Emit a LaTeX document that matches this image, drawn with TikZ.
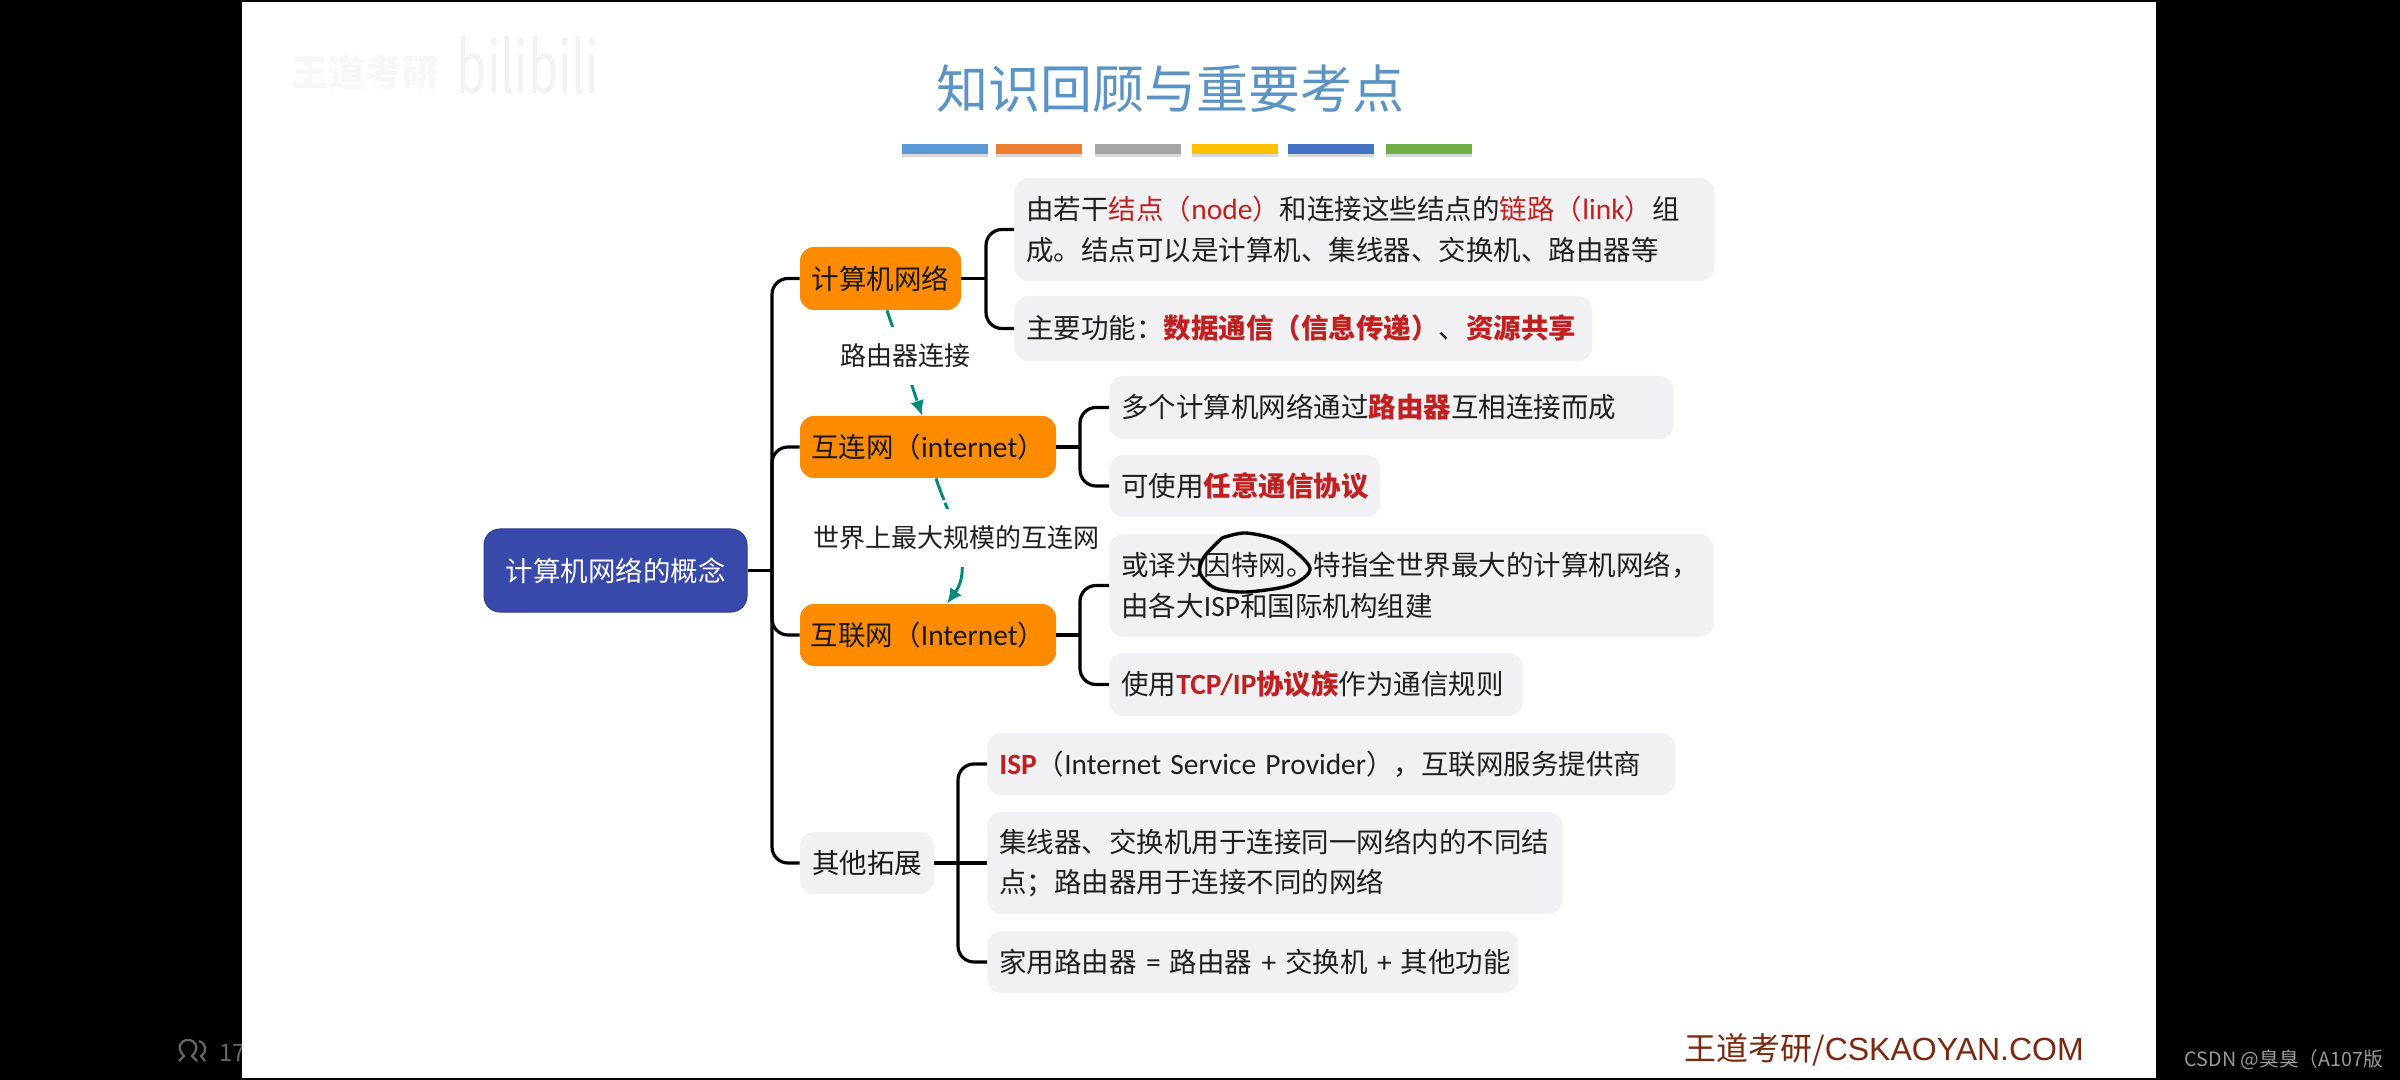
\documentclass[tikz,border=0pt]{standalone}
\usepackage{fontspec}
\setmainfont{Noto Sans CJK SC}
\newfontfamily\latinfont{Liberation Sans}
\newfontfamily\narrowfont[Scale=1.07]{Carlito}
\usetikzlibrary{arrows.meta,shadows}
\definecolor{keyred}{HTML}{C02020}
\definecolor{rootblue}{HTML}{3949AB}
\definecolor{netorange}{HTML}{FF8C00}
\definecolor{leafgray}{HTML}{F1F1F3}
\definecolor{linkteal}{HTML}{00897B}
\definecolor{titleblue}{HTML}{5B94C4}
\definecolor{footred}{HTML}{7B2A10}
\newcommand{\redtxt}[1]{\textcolor{keyred}{#1}}
\newcommand{\redbold}[1]{\textcolor{keyred}{\textbf{#1}}}
\newcommand{\lat}[1]{{\narrowfont #1}}
\begin{document}
\begin{tikzpicture}[
  x=0.5pt,y=-0.5pt,
  bodyfont/.style={font=\fontsize{13.75}{20.4}\selectfont},
  rootbox/.style={draw=rootblue!80!black,line width=0.5pt,fill=rootblue,rounded corners=8pt,text=white,bodyfont,inner sep=0pt},
  netbox/.style={fill=netorange,rounded corners=7pt,text=black!90,bodyfont,inner sep=0pt},
  leafbox/.style={fill=leafgray,rounded corners=7pt,text=black!88,bodyfont,anchor=west,align=left,inner xsep=6pt,inner ysep=0pt},
  barbox/.style={anchor=north west,minimum width=43pt,minimum height=5pt,inner sep=0pt,drop shadow={shadow xshift=0pt,shadow yshift=-1.5pt,opacity=0.3}},
  branch/.style={draw=black,line width=1.6pt,rounded corners=8pt},
  linkarrow/.style={draw=linkteal,line width=1.5pt,dash pattern=on 10pt off 2.5pt,-{Latex[length=7.5pt,width=7pt]}},
  linklabel/.style={fill=white,inner sep=2pt,minimum height=29pt,text=black!88,font=\fontsize{13}{15}\selectfont}
]
  % page
  \useasboundingbox (0,0) rectangle (2400,1080);
  \fill[black] (0,0) rectangle (2400,1080);
  \node[anchor=west,text=black!60,font=\fontsize{12}{14}\selectfont,inner sep=0pt] (viewers) at (219,1053) {17};
  \draw[black!60,line width=1.1pt] (179,1061) -- (184,1056) .. controls (176,1048) and (180,1040) .. (188,1040) .. controls (196,1040) and (200,1048) .. (192,1056) -- (197,1061);
  \draw[black!60,line width=1.1pt] (199,1041) .. controls (207,1044) and (207,1052) .. (201,1056) -- (205,1061);
  \fill[white] (242,2) rectangle (2156,1078);

  % watermarks
  \node[text=black!3,font=\fontsize{18.5}{20}\selectfont\bfseries,inner sep=0pt] (mark0) at (365,72) {王道考研};
  \node[text=black!5,font=\fontsize{36}{38}\selectfont,inner sep=0pt,transform shape,xscale=0.68] (mark1) at (528,65) {bilibili};
  \node[text=black!40,font=\fontsize{9.85}{12}\selectfont,inner sep=0pt] (mark2) at (2284,1060) {CSDN @臭臭（A107版};
  \node[text=footred,font=\fontsize{16}{18}\selectfont,inner sep=0pt] (foot) at (1884,1050) {王道考研/{\latinfont CSKAOYAN.COM}};

  % title
  \node[text=titleblue,font=\fontsize{26}{30}\selectfont,inner sep=0pt] (title) at (1170,89) {知识回顾与重要考点};
  \node[barbox,fill={rgb,255:red,91;green,155;blue,213}] (bar0) at (902,144) {};
  \node[barbox,fill={rgb,255:red,237;green,125;blue,49}] (bar1) at (996,144) {};
  \node[barbox,fill={rgb,255:red,165;green,165;blue,165}] (bar2) at (1095,144) {};
  \node[barbox,fill={rgb,255:red,255;green,192;blue,0}] (bar3) at (1192,144) {};
  \node[barbox,fill={rgb,255:red,68;green,114;blue,196}] (bar4) at (1288,144) {};
  \node[barbox,fill={rgb,255:red,112;green,173;blue,71}] (bar5) at (1386,144) {};

  % main nodes
  \node[rootbox,minimum width=131.5pt,minimum height=41.5pt] (R) at (615.5,570.5) {计算机网络的概念};
  \node[netbox,minimum width=80.5pt,minimum height=31.5pt] (N0) at (880.5,278.5) {计算机网络};
  \node[netbox,minimum width=128pt,minimum height=31pt] (N1) at (928,447) {互连网（\lat{internet}）};
  \node[netbox,minimum width=128pt,minimum height=31pt] (N2) at (928,635) {互联网（\lat{Internet}）};
  \node[netbox,fill=leafgray,minimum width=67pt,minimum height=31pt] (N3) at (867,863) {其他拓展};

  % leaves
  \node[leafbox,text width=338pt,minimum height=51.5pt] (A0) at (1014,229.5) {由若干\redtxt{结点（\lat{node}）}和连接这些结点的\redtxt{链路（\lat{link}）}组\\成。结点可以是计算机、集线器、交换机、路由器等};
  \node[leafbox,text width=277pt,minimum height=32.5pt] (A1) at (1014,328.5) {主要功能：\redbold{数据通信（信息传递）}、\redbold{资源共享}};
  \node[leafbox,text width=270pt,minimum height=31.5pt] (B0) at (1109,407.5) {多个计算机网络通过\redbold{路由器}互相连接而成};
  \node[leafbox,text width=123.5pt,minimum height=31pt] (B1) at (1109,486) {可使用\redbold{任意通信协议}};
  \node[leafbox,text width=290pt,minimum height=51.5pt] (C0) at (1109,585.5) {或译为因特网。特指全世界最大的计算机网络，\\由各大\lat{ISP}和国际机构组建};
  \node[leafbox,text width=194.5pt,minimum height=31.5pt] (C1) at (1109,684.5) {使用\redbold{\lat{TCP/IP}协议族}作为通信规则};
  \node[leafbox,text width=332pt,minimum height=31pt] (D0) at (987,764) {\mbox{\redbold{\lat{ISP}}（\lat{Internet Service Provider}），互联网服务提供商}};
  \node[leafbox,text width=275.5pt,minimum height=51pt] (D1) at (987,863) {集线器、交换机用于连接同一网络内的不同结\\点；路由器用于连接不同的网络};
  \node[leafbox,text width=253.5pt,minimum height=31pt] (D2) at (987,962) {\mbox{家用路由器\lat{ = }路由器\lat{ + }交换机\lat{ + }其他功能}};

  % branches
  \coordinate (JR) at (772,570.5);
  \coordinate (J0) at (986,278.5);
  \coordinate (J1) at (1080,447);
  \coordinate (J2) at (1080,635);
  \coordinate (J3) at (958,863);
  \draw[branch] (R.east) -- (JR);
  \draw[branch] (N0.west) -| (JR) |- (N3.west);
  \draw[branch] (JR) |- (N1.west);
  \draw[branch] (JR) |- (N2.west);
  \draw[branch] (N0.east) -- (J0);
  \draw[branch] (A0.west) -| (J0) |- (A1.west);
  \draw[branch] (N1.east) -- (J1);
  \draw[branch] (B0.west) -| (J1) |- (B1.west);
  \draw[branch] (N2.east) -- (J2);
  \draw[branch] (C0.west) -| (J2) |- (C1.west);
  \draw[branch] (N3.east) -- (D1.west);
  \draw[branch] (D0.west) -| (J3) |- (D2.west);

  % links between the nets
  \draw[linkarrow] ([xshift=3.25pt]N0.south) -- node[linklabel,pos=0.43,xshift=1.5pt] (L0) {路由器连接} ([xshift=-3pt]N1.north);
  \draw[linkarrow,dash pattern=on 11.5pt off 1.5pt on 4pt off 20pt on 40pt] ([xshift=4pt]N1.south) .. controls (946,510) and (976,564) .. node[linklabel,pos=0.5] (L1) {世界上最大规模的互连网} ([xshift=9.5pt]N2.north);

  % pen mark
  \draw[black,line width=1.7pt] plot[smooth] coordinates {(1222,538) (1246,533) (1282,542) (1310,568) (1291,585) (1246,592) (1215,588) (1200,573) (1204,557) (1222,538)};
\end{tikzpicture}
\end{document}
